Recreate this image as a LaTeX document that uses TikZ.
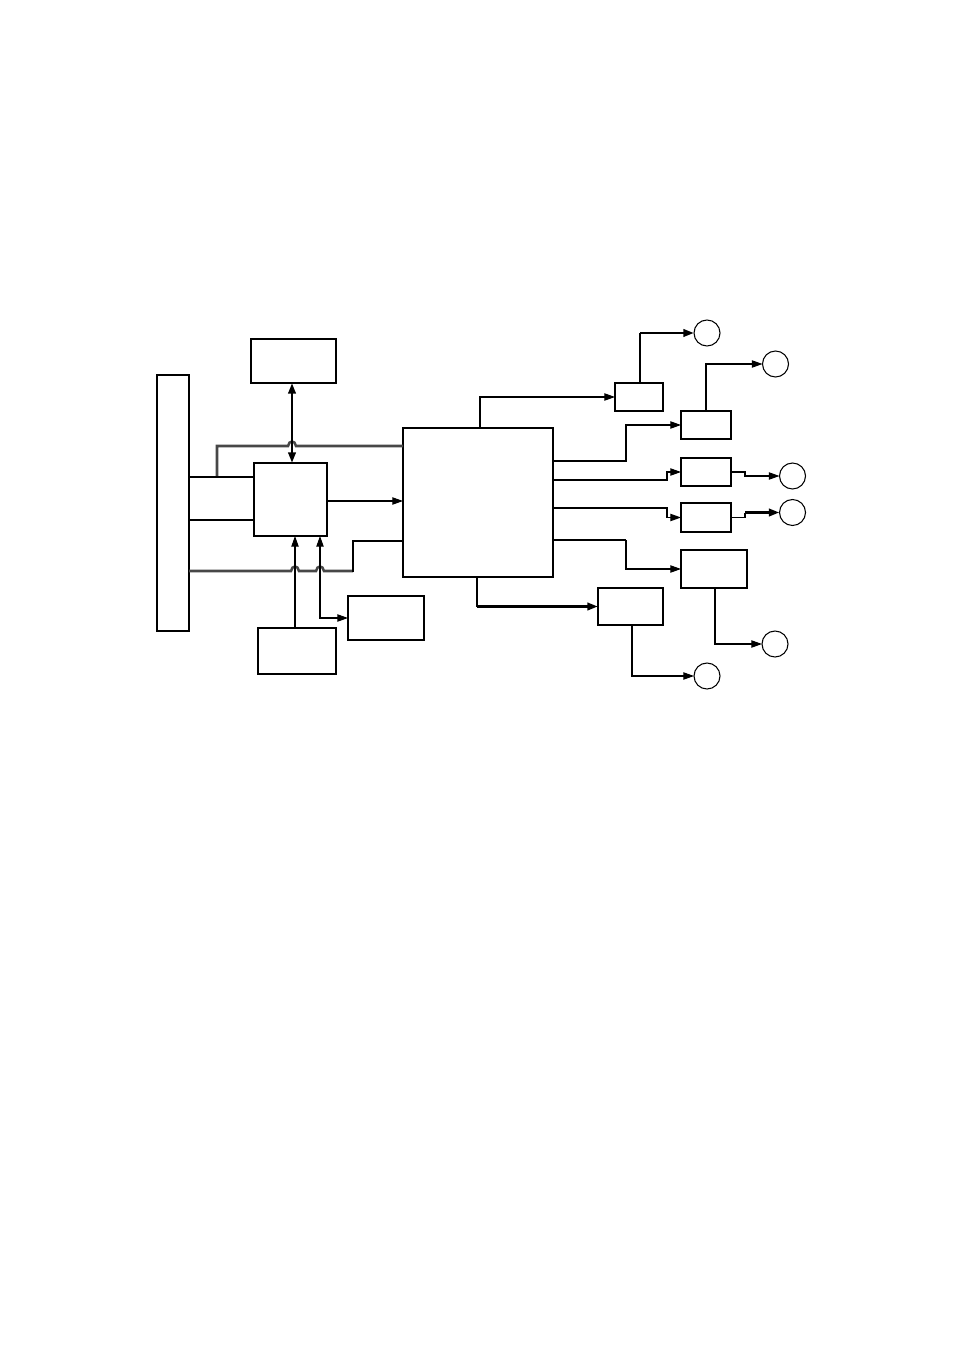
\documentclass[tikz,border=0pt]{standalone}
\usetikzlibrary{arrows.meta,calc}
\tikzset{
  bx/.style 2 args={draw=black, line width=0.8pt, minimum width=#1*0.75pt, minimum height=#2*0.75pt, inner sep=0pt, outer sep=0pt},
  circ/.style={draw=black, line width=0.8pt, circle, minimum size=26*0.75pt, inner sep=0pt, outer sep=0pt},
  thin line/.style={line width=0.8pt},
  thick line/.style={line width=2.1pt},
  bus/.style={line width=1.9pt, draw=black!72},
  arr/.style={-{Triangle[length=8pt,width=5.5pt]}},
  darr/.style={{Triangle[length=8pt,width=5.5pt]}-{Triangle[length=8pt,width=5.5pt]}},
}
\begin{document}
\begin{tikzpicture}[x=0.75pt,y=-0.75pt]
\path[use as bounding box] (0,0) rectangle (954,1351);
% boxes
\node[bx={32}{256}] (L) at (173,503) {};
\node[bx={85}{44}] (T) at (293.5,361) {};
\node[bx={73}{73}] (B) at (290.5,499.5) {};
\node[bx={150}{149}] (M) at (478,502.5) {};
\node[bx={76}{44}] (D) at (386,618) {};
\node[bx={78}{46}] (E) at (297,651) {};
\node[bx={48}{28}] (F) at (639,397) {};
\node[bx={65}{37}] (G) at (630.5,606.5) {};
\node[bx={50}{28}] (H) at (706,425) {};
\node[bx={50}{28}] (I) at (706,472) {};
\node[bx={50}{29}] (J) at (706,517.5) {};
\node[bx={66}{38}] (K) at (714,569) {};
% thicker edges
\draw[thick line] (B.north west) -- (B.north east);
\draw[thick line] (M.north east) -- (M.south east);
\draw[thick line] (F.north east) -- (F.south east);
\draw[thick line] (G.north east) -- (G.south east);
\draw[thick line] (I.north west) -- (I.north east);
\draw[thick line] (J.south west) -- (J.south east);
% circles
\node[circ] (C1) at (707,333) {};
\node[circ] (C2) at (775.5,364) {};
\node[circ] (C3) at (792.5,476) {};
\node[circ] (C4) at (792.5,512.5) {};
\node[circ] (C5) at (775,644) {};
\node[circ] (C6) at (707,676) {};
% left side connections
\coordinate (br) at (217,477);
\draw[bus] (br) -- (217,446) -- (288,446) .. controls (289,440) and (295,440) .. (296,446) -- (M.west |- 0,446);
\draw[thick line] (L.east |- 0,477) -- (B.west |- 0,477);
\draw[thick line] (L.east |- 0,520) -- (B.west |- 0,520);
\draw[bus] (L.east |- 0,571) -- (291,571) .. controls (292,565) and (298,565) .. (299,571) -- (316,571) .. controls (317,565) and (323,565) .. (324,571) -- (353,571);
\draw[thick line] (353,572) -- (353,541) -- (M.west |- 0,541);
\draw[thick line, darr] (T.south -| 292,0) -- (B.north -| 292,0);
\draw[thin line, arr] (B.east |- 0,501) -- (M.west |- 0,501);
\draw[thin line, arr] (E.north -| 295,0) -- (B.south -| 295,0);
\draw[thin line, darr] (D.west) -| (B.south -| 320,0);
% right side connections
\draw[thin line, arr] (M.north -| 480,0) |- (F.west);
\draw[thin line] (F.north -| 640,0) -- (640,333);
\draw[thick line, arr] (640,333) -- (C1.west);
\draw[thin line, arr] (M.east |- 0,461) -| (626,425) -- (H.west);
\draw[thin line, arr] (H.north -| 706,0) |- (C2.west);
\draw[thin line, arr] (M.east |- 0,480) -| (667,472) -- (I.west);
\draw[thin line, arr] (I.east) -| (745,476) -- (C3.west);
\draw[thin line, arr] (M.east |- 0,508) -| (667,517.5) -- (J.west);
\draw[thin line] (J.east) -| (745,512.5);
\draw[thick line, arr] (745,512.5) -- (C4.west);
\draw[thick line] (M.east |- 0,540) -- (626,540);
\draw[thin line, arr] (626,540) |- (K.west);
\draw[thin line, arr] (K.south -| 715,0) |- (C5.west);
\draw[thin line] (M.south -| 477,0) -- (477,606.5);
\draw[thick line, arr] (477,606.5) -- (G.west);
\draw[thin line, arr] (G.south -| 632,0) |- (C6.west);
\end{tikzpicture}
\end{document}
